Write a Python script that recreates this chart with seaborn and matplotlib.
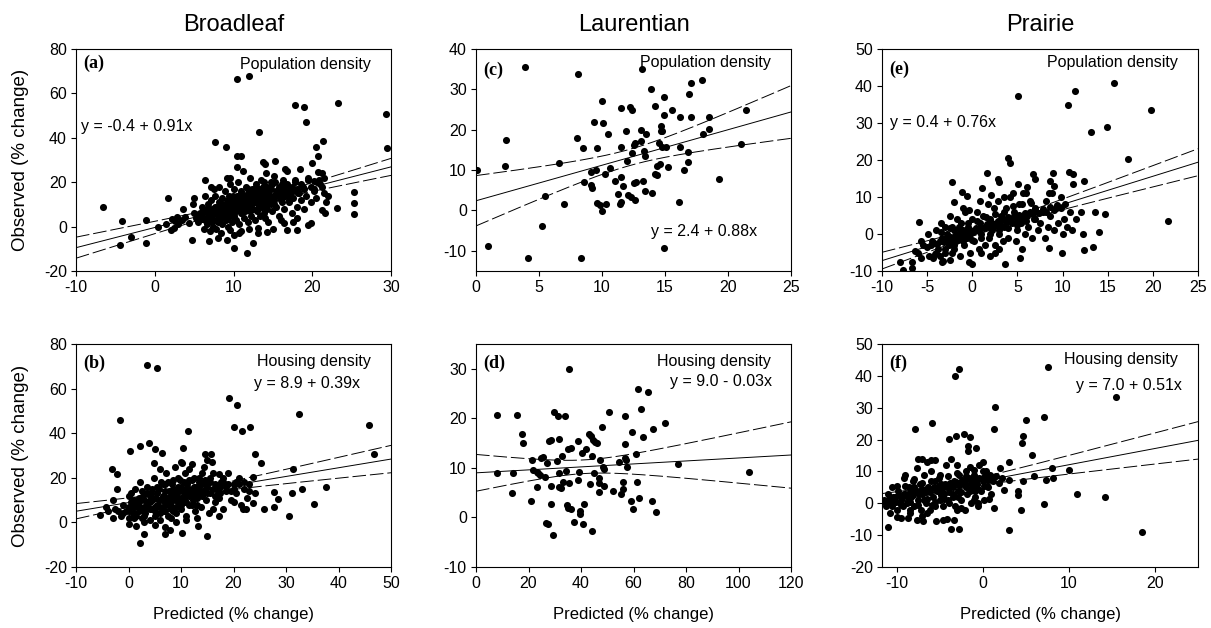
import numpy as np
import matplotlib
matplotlib.use("Agg")
import matplotlib.pyplot as plt
import seaborn as sns

# ---- data (predicted, observed) ----
broadleaf_pop = np.array([
    (-6.6, 9.0), (-4.1, 2.4), (-4.4, -8.3), (-3.0, -4.7), (-1.1, 3.0), (-1.1, -7.2),
    (1.65, 13.0), (0.4, 0.0), (1.4, 1.2), (2.0, -1.5), (2.2, 3.3), (2.6, 2.7), (2.4, -0.8),
    (3.6, 8.1), (3.4, 3.0), (3.9, 4.5), (4.7, -6.1), (5.0, 13.0), (4.8, 10.0), (6.4, 21.0),
    (7.1, 18.0), (6.9, -6.3), (7.7, 37.9), (9.1, 36.0), (9.2, 21.8), (9.2, -6.0), (10.0, -9.8),
    (10.4, 66.5), (12.0, 68.0), (11.7, -12.0), (12.5, -7.2), (10.5, 31.6), (10.9, 31.6),
    (10.7, -3.0), (13.3, 42.4), (13.8, 29.3), (14.0, 28.3), (15.3, 29.6), (17.8, 54.7),
    (19.0, 53.8), (19.2, 46.9), (20.5, 36.0), (20.7, 31.6), (21.4, 38.4), (20.7, 24.8),
    (21.2, 24.0), (20.0, 28.6), (20.2, 20.6), (23.3, 55.6), (23.2, 8.4), (25.3, 15.8),
    (25.3, 10.5), (25.3, 5.6), (29.4, 50.7), (29.5, 35.2), (21.6, 6.0), (21.2, 7.5),
    (21.7, 11.0), (21.5, 15.0), (19.9, 1.5), (19.5, 0.8), (18.1, -1.5), (16.8, -1.5),
    (16.4, 1.8), (17.5, 2.0), (14.2, -2.3), (13.1, -0.5), (13.1, -3.0), (9.6, -1.5),
    (5.5, 2), (5.8, 6), (6.0, 9), (6.2, -1), (6.3, 4), (6.5, 7), (6.6, 1), (6.8, 10),
    (6.9, 3), (7.0, -2), (7.1, 5), (7.2, 12), (7.3, 8), (7.4, 0), (7.5, 3), (7.6, 14),
    (7.7, 6), (7.8, -1), (7.9, 9), (8.0, 2), (8.1, 11), (8.2, 4), (8.3, 7), (8.4, -3),
    (8.5, 13), (8.6, 1), (8.7, 5), (8.8, 9), (8.9, 16), (9.0, 3), (9.1, 7), (9.2, 11),
    (9.3, 0), (9.4, 14), (9.5, 5), (9.6, 19), (9.7, 8), (9.8, 2), (9.9, 12), (10.0, 6),
    (10.1, 17), (10.2, 10), (10.3, 3), (10.4, 14), (10.5, 8), (10.6, 20), (10.7, 1),
    (10.8, 12), (10.9, 6), (11.0, 16), (11.1, 9), (11.2, 25), (11.3, 4), (11.4, 13),
    (11.5, 7), (11.6, 18), (11.7, 11), (11.8, 2), (11.9, 15), (12.0, 9), (12.1, 22),
    (12.2, 5), (12.3, 13), (12.4, 17), (12.5, 8), (12.6, 11), (12.7, 3), (12.8, 14),
    (12.9, 19), (13.0, 7), (13.1, 10), (13.2, 16), (13.3, 12), (13.4, 5), (13.5, 21),
    (13.6, 9), (13.7, 14), (13.8, 18), (13.9, 6), (14.0, 11), (14.1, 24), (14.2, 8),
    (14.3, 15), (14.4, 2), (14.5, 12), (14.6, 17), (14.7, 10), (14.8, 20), (14.9, 7),
    (15.0, 13), (15.2, 23), (15.4, 9), (15.6, 16), (15.8, 5), (16.0, 12), (16.2, 19),
    (16.4, 8), (16.6, 14), (16.8, 25), (17.0, 11), (17.2, 17), (17.4, 6), (17.6, 13),
    (17.8, 21), (18.0, 9), (18.2, 15), (18.4, 26), (18.6, 12), (18.8, 18), (19.0, 8),
    (19.2, 14), (19.5, 22), (19.8, 11), (20.2, 17), (20.5, 13), (20.8, 21), (21.2, 18),
    (21.5, 22), (22.0, 14), (16.0, 3), (15.0, -1), (9.5, 22), (8.2, 18), (6.4, 14),
    (10.0, -4), (12.0, -1), (14.0, 4), (16.5, 26), (18.0, 4), (11.0, -2), (8.0, -5),
    (7.5, 17), (10.5, 27),
    (5.2, 4), (5.6, 5.5), (6.1, 6.5), (6.4, 3), (6.7, 5), (7.0, 7), (7.2, 4), (7.5, 6),
    (7.7, 9), (8.0, 5), (8.2, 8), (8.4, 6), (8.6, 10), (8.8, 7), (9.0, 9), (9.2, 6),
    (9.4, 10), (9.6, 7), (9.8, 11), (10.0, 9), (10.2, 7), (10.4, 11), (10.6, 9),
    (10.8, 13), (11.0, 10), (11.2, 8), (11.4, 12), (11.6, 10), (11.8, 14), (12.0, 11),
    (12.2, 9), (12.4, 13), (12.6, 11), (12.8, 15), (13.0, 12), (13.2, 10), (13.4, 14),
    (13.6, 12), (13.8, 16), (14.0, 13), (14.2, 11), (14.4, 15), (14.6, 13), (14.8, 17),
    (15.0, 14), (15.2, 12), (15.4, 16), (15.6, 14), (15.8, 18), (16.0, 15), (16.2, 13),
    (16.4, 17), (16.6, 15), (16.8, 19), (17.0, 16), (17.2, 14), (17.4, 18), (17.6, 16),
    (17.8, 20), (18.0, 17), (18.3, 15), (18.6, 19), (19.0, 17), (19.4, 21), (19.8, 18),
    (20.2, 16), (20.6, 20), (21.0, 19), (7.3, 2), (8.1, 3), (9.1, 4), (10.1, 5), (11.1, 6),
    (12.1, 7), (13.1, 8), (14.1, 9), (15.1, 10), (16.1, 11), (17.1, 12), (6.0, 3.5),
    (6.8, 8.5), (9.9, 14), (10.9, 15), (11.9, 17), (12.9, 18), (13.9, 20), (14.9, 19),
    (8.5, 8), (9.3, 12), (10.3, 12), (11.3, 14), (12.3, 15), (13.3, 17), (14.3, 18),
    (15.3, 20), (16.3, 21), (5.0, 6), (4.4, 1.5), (3.0, 1), (2.8, 4.5),
])

laurentian_pop = np.array([
    (0.05, 10), (0.93, -8.9), (2.3, 11), (2.4, 17.5), (3.9, 35.5), (4.1, -11.8), (5.2, -3.8),
    (5.5, 3.5), (6.6, 11.7), (7.0, 1.7), (8.0, 18), (8.1, 33.8), (8.5, 15.4), (8.6, 7),
    (8.3, -11.9), (9.1, 9.5), (9.1, 6.2), (9.2, 5.6), (9.4, 22), (9.5, 10), (9.6, 1.75),
    (9.6, 15.4), (9.85, 1.4), (10.0, 27.2), (10.0, -0.25), (10.1, 21.7), (10.25, 9.1),
    (10.3, 1.6), (10.5, 19), (10.6, 10.4), (11.0, 7.25), (11.3, 4.2), (11.4, 1.5),
    (11.5, 25.5), (11.5, 15.6), (11.5, 8.3), (11.5, 2.1), (11.7, 6.1), (11.9, 19.75),
    (12.0, 12.3), (12.1, 3.75), (12.2, 25.6), (12.3, 3.3), (12.4, 14.3), (12.4, 25),
    (12.5, 6.7), (12.55, 16.1), (12.65, 16.8), (12.7, 7.1), (12.6, 2.5), (13.1, 20),
    (13.1, 17.25), (13.2, 35), (13.25, 7.25), (13.35, 14.75), (13.4, 13.5), (13.4, 4.8),
    (13.5, 19), (13.85, 30), (14.0, 4.3), (14.2, 25.8), (14.2, 9), (14.35, 8.75),
    (14.4, 11), (14.55, 16.7), (14.6, 11.6), (14.7, 20.8), (14.7, 19.8), (14.75, 15.8),
    (14.8, 19.6), (14.9, 23.75), (14.95, 28), (14.9, -9.4), (15.1, 15.8), (15.2, 10.8),
    (15.55, 24.8), (16.2, 23.2), (16.2, 15.6), (16.1, 2), (16.5, 10), (16.8, 14.4),
    (16.8, 12), (16.9, 28.9), (17.05, 31.5), (17.1, 23.2), (17.9, 32.25), (18.0, 18.9),
    (18.5, 23.2), (18.5, 20.25), (19.3, 7.75), (21.0, 16.5), (21.4, 24.8),
])

prairie_pop = np.array([
    (-8.0, -7.5), (-7.7, -9.6), (-6.7, -7.6), (-6.7, -9.1), (-5.9, 3.2), (-6.3, -4.7),
    (-5.7, -6.5), (-5.7, -2), (-4.9, 0), (-4.4, -6.4), (-4.1, -5.5), (-3.4, -7.6),
    (-3.2, -7.3), (-2.3, 14.1), (-2.0, 8.6), (-1.1, 11.4), (-0.6, 10.2), (-0.4, 6.5),
    (-0.4, -7.7), (1.1, 12.3), (1.6, 16.6), (2.1, 10.5), (2.8, 14.9), (3.5, 10),
    (3.6, -8.2), (4.0, 20.6), (4.2, 19.3), (5.1, 37.3), (5.1, 13.6), (5.3, -6.6),
    (6.1, 12.7), (6.7, 16.2), (8.5, -3.8), (8.9, 16.5), (8.6, 14.2), (9.9, -5),
    (10.6, 34.9), (10.7, 16.8), (11.2, 16.3), (11.2, 13.6), (11.4, 38.7), (12.4, 14.3),
    (12.4, -4.4), (13.1, 27.7), (13.4, -3.4), (13.6, 5.9), (14.0, 0.5), (14.9, 28.9),
    (14.7, 5.5), (15.7, 40.7), (17.3, 20.2), (19.75, 33.6), (21.7, 3.5),
    (-4.5, -2), (-4.0, 1), (-3.8, -4), (-3.5, 3), (-3.3, -1), (-3.0, -5), (-3.0, 2),
    (-2.8, 0), (-2.6, -3), (-2.5, 5), (-2.4, -1), (-2.2, 2), (-2.0, -4), (-2.0, 1),
    (-1.8, -2), (-1.7, 4), (-1.5, 0), (-1.4, -6), (-1.3, 3), (-1.2, -1), (-1.0, 1),
    (-0.9, -3), (-0.8, 6), (-0.6, -1), (-0.5, 2), (-0.3, -5), (-0.2, 0), (0.0, 4),
    (0.2, -2), (0.3, 1), (0.5, 6), (0.7, -4), (0.8, 3), (1.0, 0), (1.2, 5), (1.4, -3),
    (1.5, 2), (1.7, 8), (1.9, -1), (2.0, 4), (2.2, 1), (2.4, 7), (2.5, -3), (2.7, 3),
    (2.9, 9), (3.0, 0), (3.2, 5), (3.4, -2), (3.5, 2), (3.7, 7), (3.9, 4), (4.0, -1),
    (4.2, 10), (4.4, 3), (4.6, 6), (4.8, -2), (5.0, 1), (5.2, 8), (5.4, 3), (5.6, 11),
    (5.8, 0), (6.0, 5), (6.2, 2), (6.4, 9), (6.6, -1), (6.8, 4), (7.0, 7), (7.3, 1),
    (7.5, 3), (7.8, 6), (8.0, -1), (8.2, 9), (8.4, 2), (8.6, 5), (8.8, 11), (9.0, 1),
    (9.3, 7), (9.5, 3), (9.8, 10), (10.0, 0), (10.2, 4), (10.5, 2), (10.8, 6), (11.0, 1),
    (11.5, 4), (12.0, 6), (12.3, 0), (-5.5, -3), (-6.0, -5), (-4.8, -6), (-3.6, -6),
    (-2.2, -5), (1.0, -5), (0.0, -8), (2.0, -6), (3.0, -4), (5.5, -4), (6.0, 11),
    (4.5, 11), (0.8, 9), (-1.0, 7), (-2.5, -7), (9.0, 13), (7.0, 15), (8.5, 11),
    (3.0, 14), (2.5, -5),
    (-5.0, -3.5), (-4.6, -3), (-4.2, -2.5), (-3.9, -2.8), (-3.6, -2), (-3.4, -1.8),
    (-3.1, -2.2), (-2.9, -1.5), (-2.7, -1), (-2.4, -2.2), (-2.1, -1.2), (-1.9, -0.5),
    (-1.6, -1.5), (-1.4, 0.5), (-1.1, -0.5), (-0.8, 0.2), (-0.5, -0.6), (-0.2, 1),
    (0.1, 0.5), (0.4, 1.5), (0.7, 0.8), (1.0, 2), (1.3, 1.5), (1.6, 2.6), (1.9, 1.8),
    (2.2, 3), (2.5, 2.2), (2.8, 3.5), (3.1, 2.6), (3.4, 4), (3.7, 3.2), (4.0, 4.5),
    (4.3, 3.5), (4.6, 4.8), (4.9, 4), (5.2, 5.2), (5.5, 4.5), (5.8, 5.6), (6.1, 4.8),
    (6.4, 6), (6.7, 5.3), (7.0, 6.5), (7.4, 5.6), (7.8, 6.8), (8.2, 6), (8.6, 7.3),
    (9.0, 6.5), (9.4, 7.8), (9.8, 7), (10.3, 8), (-4.0, -5), (-3.0, -4), (-2.0, -3),
    (-1.0, -2), (0.0, -1.5), (1.0, -1), (2.0, 0), (3.0, 1), (4.0, 1.5), (5.0, 2.5),
    (6.0, 3.5), (7.0, 4), (-3.5, 0.5), (-2.5, 1.5), (-1.5, 2), (-0.5, 3), (0.5, 3.5),
    (1.5, 4.5), (2.5, 5.5), (3.5, 6), (4.5, 7.5), (5.5, 8), (6.5, 8.5),
])

broadleaf_house = np.array([
    (-5.5, 3.1), (-4.3, 6.7), (-3.1, 23.8), (-2.1, 21.5), (-2.2, 15.2), (-2.9, 10),
    (-1.6, 45.7), (0.2, 31.9), (0.1, -0.5), (1.5, -1.7), (2.1, 34.4), (2.1, -9.2),
    (3.0, -5), (3.5, 70.4), (3.9, 35.5), (5.4, 69.2), (4.9, 26.5), (5.1, 33.1),
    (6.3, 31), (6.9, -5), (7.9, -3.5), (10.3, 33.4), (10.1, 26.5), (10.2, -4.7),
    (11.3, 40.9), (13.3, -1.7), (14.9, -6.2), (14.6, 30.7), (15.7, 30.7), (15.9, 27.2),
    (19.2, 55.7), (20.6, 52.6), (20.0, 43), (21.6, 40.9), (23.2, 43), (24.1, 30.7),
    (25.2, 26.8), (25.9, 5.9), (27.8, 13.7), (27.8, 7), (28.5, 10.3), (30.6, 2.9),
    (31.2, 13), (31.3, 23.8), (32.4, 48.7), (33.1, 14.8), (35.3, 8.2), (37.6, 16),
    (45.9, 43.9), (46.7, 30.7), (23.8, 8.5), (23.8, 20.5), (17.2, 3), (17.2, 21.8),
    (22.4, 6), (21.8, 6),
    (-4.0, 5), (-3.0, 2), (-2.5, 6), (-1.5, 3), (-1.0, 8), (-0.5, 5), (0.0, 2), (0.5, 13),
    (0.8, 4), (1.0, 7), (1.2, 15), (1.5, 3), (1.8, 10), (2.0, 5), (2.2, 18), (2.5, 2),
    (2.8, 12), (3.0, 7), (3.2, 4), (3.5, 16), (3.8, 9), (4.0, 1), (4.2, 13), (4.5, 6),
    (4.8, 20), (5.0, 3), (5.2, 11), (5.5, 8), (5.8, 15), (6.0, 1), (6.2, 18), (6.5, 5),
    (6.8, 12), (7.0, 9), (7.2, 22), (7.5, 3), (7.8, 14), (8.0, 7), (8.2, 17), (8.5, 11),
    (8.8, 25), (9.0, 4), (9.2, 13), (9.5, 9), (9.8, 19), (10.0, 6), (10.2, 15), (10.5, 11),
    (10.8, 22), (11.0, 3), (11.2, 17), (11.5, 8), (11.8, 13), (12.0, 26), (12.3, 10),
    (12.6, 5), (12.9, 16), (13.2, 12), (13.5, 20), (13.8, 7), (14.1, 14), (14.4, 25),
    (14.7, 10), (15.0, 17), (15.3, 4), (15.6, 13), (16.0, 22), (16.4, 9), (16.8, 15),
    (17.2, 11), (17.6, 18), (18.0, 6), (18.5, 14), (19.0, 22), (19.5, 10), (20.0, 17),
    (20.5, 13), (21.0, 20), (21.5, 8), (22.0, 15), (22.5, 11), (23.0, 17), (24.0, 13),
    (9.0, 0), (7.0, -2), (11.0, 1), (5.0, -1), (3.0, 0), (13.0, 2), (6.0, 24), (10.0, 27),
    (14.0, 22), (8.0, 2), (12.0, 19), (4.0, 9), (2.0, 11), (0.0, 12), (16.0, 6), (18.0, 20),
    (20.0, 9), (15.0, 28), (7.0, 17), (9.5, 16), (10.5, 9), (11.5, 24), (8.5, 5), (6.5, 10),
    (12.5, 14), (13.0, 8),
    (0.0, 7), (0.5, 9), (1.0, 10), (1.5, 8), (2.0, 9), (2.5, 11), (3.0, 10), (3.5, 8),
    (4.0, 12), (4.5, 10), (5.0, 11), (5.5, 13), (6.0, 10), (6.5, 12), (7.0, 14), (7.5, 11),
    (8.0, 13), (8.5, 15), (9.0, 12), (9.5, 14), (10.0, 16), (10.5, 13), (11.0, 15),
    (11.5, 12), (12.0, 14), (12.5, 16), (13.0, 13), (13.5, 15), (14.0, 17), (14.5, 14),
    (15.0, 16), (15.5, 18), (16.0, 15), (16.5, 17), (17.0, 14), (17.5, 16), (18.0, 18),
    (18.5, 16), (19.0, 17), (20.0, 15), (21.0, 17), (22.0, 18), (23.0, 14), (1.0, 4),
    (2.0, 7), (3.0, 5), (4.0, 6), (5.0, 7), (6.0, 7), (7.0, 8), (8.0, 9), (9.0, 10),
    (10.0, 11), (11.0, 12), (12.0, 12), (13.0, 11), (14.0, 12), (15.0, 13), (2.5, 14),
    (3.5, 13), (4.5, 15), (5.5, 16), (6.5, 17), (7.5, 18), (8.5, 19), (9.5, 20),
    (10.5, 18), (11.5, 19), (12.5, 20), (13.5, 18), (14.5, 19), (15.5, 20), (6.0, 4),
    (7.0, 5), (8.0, 6), (9.0, 7), (10.0, 8), (11.0, 9), (12.0, 8), (-2.0, 5), (-1.0, 4),
    (0.0, 5), (1.0, 2), (3.0, 3), (5.0, 5), (7.5, 8), (8.5, 12), (9.5, 11), (10.5, 14),
    (11.5, 15), (12.5, 12), (13.5, 13), (16.5, 12), (17.5, 13), (19.5, 14), (20.5, 18),
])

laurentian_house = np.array([
    (7.9, 20.6), (8.1, 8.9), (14.0, 9.0), (13.7, 4.9), (15.8, 20.7), (17.5, 16.9),
    (17.8, 15.1), (21.2, 11.6), (21.1, 3.4), (21.9, 9.5), (23.1, 9.2), (23.1, 6.1),
    (23.8, 8.9), (24.4, 8.5), (24.9, 12), (25.7, 12.2), (26.4, 8.1), (26.6, -1.1),
    (27.4, -1.3), (27.2, 10.9), (27.7, 15.5), (28.5, 6.4), (28.6, 15.6), (28.5, 2.8),
    (29.5, -3.6), (29.7, 21.3), (31.0, 11.4), (31.4, 20.5), (31.5, 15.9), (31.8, 8.9),
    (31.5, 6.1), (32.5, 5.9), (32.7, 12.4), (33.3, 7.2), (33.8, 20.5), (34.2, 9.4),
    (34.6, 2.6), (35.0, 13.8), (35.2, 2.0), (35.3, 30), (35.6, 7), (36.1, 14),
    (36.1, 1.7), (37.4, -1), (38.8, 15.5), (39.2, 9.1), (39.0, 7.6), (39.7, 1.4),
    (39.8, 0.6), (40.4, 13), (40.7, -1.3), (41.2, 2.8), (41.8, 13.9), (43.2, 16.9),
    (43.7, 16.4), (43.5, 6.7), (44.2, 12.4), (44.1, -2.8), (44.7, 15.7), (45.4, 15.2),
    (45.0, 8.9), (46.0, 15.1), (46.8, 8), (46.9, 7), (47.0, 5.1), (47.3, 11.5),
    (47.9, 18.3), (48.3, 10.2), (48.7, 9.7), (48.6, 6.3), (50.7, 21.2), (52.0, 5.4),
    (54.3, 11.1), (55.4, 4.8), (56.0, 7.2), (56.1, 5.8), (56.8, 20.5), (56.9, 14.9),
    (56.9, 12), (57.3, 11.6), (57.5, 10.2), (59.6, 17.2), (59.0, 3.3), (59.7, 1.8),
    (60.8, 12.9), (61.5, 7.2), (61.6, 25.9), (62.0, 3.9), (63.0, 21.8), (63.8, 16.3),
    (65.7, 25.3), (67.1, 3.3), (67.6, 17.8), (68.4, 1.0), (72.1, 19), (76.9, 10.7),
    (103.9, 9.2),
])

prairie_house = np.array([
    (-11.0, -7.6), (-7.9, 23.2), (-5.9, 25.1), (-3.2, 40), (-2.7, 42.1), (-3.1, 21.2),
    (-2.2, 21.9), (-3.9, 20.1), (-1.5, 20.7), (-1.7, 17.9), (-1.7, 16.4), (-0.8, 17.2),
    (-3.7, -8), (-2.7, -8), (-3.3, -5.2), (-4.6, -5.2), (-4.2, -5), (-5.4, -5.6),
    (-6.9, -5.6), (-7.6, -5.2), (-8.7, -4.6), (-9.9, -4.4), (1.4, 30.1), (1.35, 23.3),
    (3.0, -8.3), (3.0, 13), (4.4, -2.2), (4.7, 21.1), (4.6, 19), (5.0, 26.3), (5.7, 15.1),
    (7.1, 27), (7.1, -0.1), (7.6, 42.8), (7.4, 7.4), (8.1, 11.2), (8.2, 7.9), (10.0, 10.6),
    (11.0, 2.8), (14.2, 2.0), (15.5, 33.5), (18.5, -9.1), (6.0, 8.7), (4.7, 7), (4.1, 4),
    (4.1, 2.7), (3.1, 7.2), (1.9, 6.4), (2.0, 11.2), (2.5, 4.3), (1.35, -1.4), (0.7, 1.2),
    (-11.5, 1), (-11.2, -1), (-11.0, 3), (-10.8, -3), (-10.6, 0), (-10.5, 5), (-10.2, 2),
    (-10.0, -2), (-9.8, 4), (-9.5, 1), (-9.3, -1), (-9.2, 8), (-9.0, 3), (-8.8, 0),
    (-8.6, 5), (-8.5, -3), (-8.3, 2), (-8.1, 7), (-8.0, -1), (-7.8, 4), (-7.6, 11),
    (-7.5, 1), (-7.3, 6), (-7.2, -2), (-7.0, 14), (-7.0, 3), (-6.8, 9), (-6.6, 0),
    (-6.5, 13), (-6.3, 5), (-6.1, -2), (-6.0, 10), (-5.8, 2), (-5.6, 7), (-5.5, -1),
    (-5.3, 4), (-5.1, 8), (-5.0, 1), (-4.8, 6), (-4.6, -1), (-4.5, 3), (-4.3, 12),
    (-4.0, 5), (-3.9, 0), (-3.7, 14), (-3.5, 2), (-3.3, 7), (-3.2, -1), (-3.0, 12),
    (-2.9, 4), (-2.7, 9), (-2.5, 1), (-2.3, 6), (-2.1, -2), (-2.0, 10), (-1.8, 3),
    (-1.6, 8), (-1.4, 0), (-1.2, 5), (-1.0, 9), (-0.9, 2), (-0.7, 6), (-0.5, 0),
    (-0.4, 12), (-0.2, 4), (0.0, 8), (0.2, 1), (0.4, 10), (0.6, 5), (0.8, 9), (1.0, 3),
    (1.2, 7), (-6.0, 13.5), (-7.5, 14), (-4.0, 1), (-2.5, -1.5), (-1.0, 1), (-8.0, 7.5),
    (-9.0, 9), (-10.0, 5.5), (-5.5, 13.5), (-3.5, 6), (-6.5, -3), (-8.5, -2), (0.0, 13),
    (-1.5, 11.5), (-0.5, -1), (-3.0, -2), (-7.0, -4), (-9.5, -4.5),
    (-11.3, 0.5), (-10.9, 1.5), (-10.4, 2), (-10.1, 0.5), (-9.7, 2.5), (-9.4, 1.8),
    (-9.1, 2.8), (-8.7, 2), (-8.4, 3.5), (-8.1, 2.5), (-7.7, 3.8), (-7.4, 2.8),
    (-7.1, 4.5), (-6.7, 3.5), (-6.4, 4.8), (-6.1, 3.6), (-5.7, 5.2), (-5.4, 4.2),
    (-5.1, 5.5), (-4.7, 4.5), (-4.4, 6), (-4.1, 5), (-3.8, 6.5), (-3.4, 5.2), (-3.1, 6.8),
    (-2.8, 5.8), (-2.4, 7.2), (-2.1, 6), (-1.8, 7.5), (-1.4, 6.5), (-1.1, 7.8),
    (-0.8, 6.8), (-0.4, 8), (0.0, 7), (0.3, 8.5), (0.6, 7.3), (0.9, 8.2), (1.5, 8.5),
    (2.2, 8), (-10.5, -1), (-9.5, -0.5), (-8.5, 0.5), (-7.5, -0.5), (-6.5, 1.5),
    (-5.5, 0.5), (-4.5, 1.5), (-3.5, 3), (-2.5, 3.5), (-1.5, 4), (-0.5, 4.5), (0.5, 5.5),
    (-9.0, 5.5), (-8.0, 5), (-7.0, 6.5), (-6.0, 7), (-5.0, 9), (-4.0, 8.5), (-3.0, 9.5),
    (-2.0, 8.5), (-1.0, 10.5), (0.0, 10), (-6.8, 1), (-5.9, -0.5), (-4.9, 2.5),
    (-3.9, 3.5), (-2.9, 2), (-1.9, 5), (-0.9, 4), (0.1, 5.5),
])

# fitted lines drawn on the figure (intercept, slope)
fit_params = {"a": (-0.4, 0.91), "c": (2.4, 0.88), "e": (0.4, 0.76),
              "b": (8.9, 0.39), "d": (9.0, 0.03), "f": (7.0, 0.51)}
equations = {"a": "y = -0.4 + 0.91x", "c": "y = 2.4 + 0.88x", "e": "y = 0.4 + 0.76x",
             "b": "y = 8.9 + 0.39x", "d": "y = 9.0 - 0.03x", "f": "y = 7.0 + 0.51x"}
columns = ["Broadleaf", "Laurentian", "Prairie"]

sns.set_theme(style="ticks")
plt.rcParams['font.family'] = ['Liberation Sans', 'DejaVu Sans']
plt.rcParams['axes.unicode_minus'] = False
plt.rcParams['text.color'] = 'black'
plt.rcParams['axes.labelcolor'] = 'black'

W, H = 1211, 628
fig = plt.figure(figsize=(W / 100, H / 100), dpi=100)


def px_axes(l, r, t, b):
    return fig.add_axes([l / W, 1 - b / H, (r - l) / W, (b - t) / H])


def draw_fit(ax, pts, key, xlim):
    a, b = fit_params[key]
    x, y = pts[:, 0], pts[:, 1]
    n = len(x)
    resid = y - (a + b * x)
    s = np.sqrt(np.sum(resid ** 2) / (n - 2))
    sxx = np.sum((x - x.mean()) ** 2)
    xs = np.linspace(xlim[0], xlim[1], 200)
    yh = a + b * xs
    se = s * np.sqrt(1 / n + (xs - x.mean()) ** 2 / sxx)
    ax.plot(xs, yh, color='black', lw=0.7)
    for sign in (1, -1):
        ax.plot(xs, yh + sign * 1.97 * se, color='black', lw=0.7, dashes=(14, 4))


panels = [
    # key, data, (l, r, t, b) pixels, xlim, xticks, ylim, yticks
    ("a", broadleaf_pop, (76, 391, 49, 271), (-10, 30), range(-10, 31, 10), (-20, 80), range(-20, 81, 20)),
    ("c", laurentian_pop, (476, 791, 49, 271), (0, 25), range(0, 26, 5), (-15, 40), range(-10, 41, 10)),
    ("e", prairie_pop, (882, 1198, 49, 271), (-10, 25), range(-10, 26, 5), (-10, 50), range(-10, 51, 10)),
    ("b", broadleaf_house, (76, 391, 344, 567), (-10, 50), range(-10, 51, 10), (-20, 80), range(-20, 81, 20)),
    ("d", laurentian_house, (476, 791, 344, 567), (0, 120), range(0, 121, 20), (-10, 35), range(-10, 31, 10)),
    ("f", prairie_house, (882, 1198, 344, 567), (-11.7, 25), range(-10, 21, 10), (-20, 50), range(-20, 51, 10)),
]

# text placement in axes fraction: (letter y, label y, eq x, eq y, eq ha)
text_pos = {
    "a": (0.935, 0.93, 0.016, 0.65, "left"),
    "c": (0.905, 0.94, 0.555, 0.18, "left"),
    "e": (0.91, 0.94, 0.025, 0.67, "left"),
    "b": (0.915, 0.92, 0.90, 0.825, "right"),
    "d": (0.915, 0.92, 0.94, 0.83, "right"),
    "f": (0.915, 0.93, 0.95, 0.815, "right"),
}

for i, (key, pts, box, xlim, xt, ylim, yt) in enumerate(panels):
    ax = px_axes(*box)
    sns.scatterplot(x=pts[:, 0], y=pts[:, 1], ax=ax, color='black', s=26,
                    linewidth=0, zorder=3)
    draw_fit(ax, pts, key, xlim)
    ax.set_xlim(*xlim)
    ax.set_ylim(*ylim)
    ax.set_xticks(list(xt))
    ax.set_yticks(list(yt))
    ax.tick_params(labelsize=11.5, length=3.6, width=0.8, pad=3, colors='black')
    for sp in ax.spines.values():
        sp.set_visible(True)
        sp.set_linewidth(0.8)
        sp.set_color('black')
    ly, lab_y, ex, ey, eha = text_pos[key]
    ax.text(0.022, ly, f"({key})", transform=ax.transAxes, ha='left', va='center',
            family='Liberation Serif', fontweight='bold', fontsize=13)
    label = "Population density" if i < 3 else "Housing density"
    ax.text(0.935, lab_y, label, transform=ax.transAxes, ha='right', va='center', fontsize=11.5)
    ax.text(ex, ey, equations[key], transform=ax.transAxes, ha=eha, va='center', fontsize=11.5)
    if i < 3:
        ax.set_title(columns[i], fontsize=17, pad=13)
    if i in (0, 3):
        ax.set_ylabel("Observed (% change)", fontsize=13.5)
        ax.yaxis.set_label_coords(-0.15, 0.5)
    if i >= 3:
        ax.set_xlabel("Predicted (% change)", fontsize=12)
        ax.xaxis.set_label_coords(0.5, -0.18)

fig.savefig("out.png", dpi=100, facecolor='white')
